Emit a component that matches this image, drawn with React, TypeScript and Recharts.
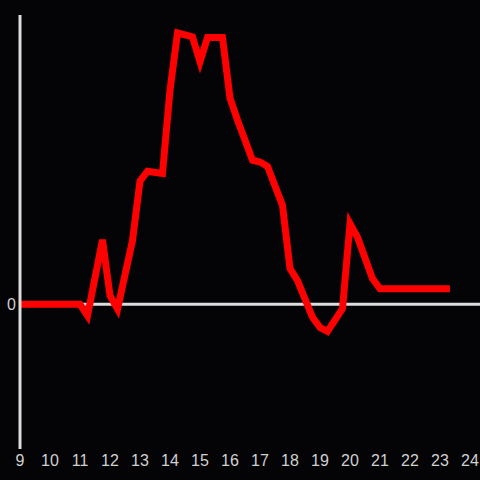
import React from 'react';
import { LineChart, Line, XAxis, YAxis, ReferenceLine } from 'recharts';

const hours = [9, 11, 11.25, 11.75, 12, 12.25, 12.75, 13, 13.25, 13.75, 14, 14.25, 14.75, 15, 15.25, 15.75, 16, 16.25, 16.75, 17, 17.25, 17.75, 18, 18.25, 18.75, 19, 19.25, 19.75, 20, 20.25, 20.75, 21, 23.33];
const values = [0, 0, -7.8, 44.6, 6.0, -3.2, 44.1, 85.2, 92.0, 90.4, 148.1, 187.6, 184.8, 167.7, 184.5, 184.5, 142.5, 127.3, 99.6, 98.4, 95.4, 68.4, 24.7, 16.4, -9.0, -16.1, -18.7, -3.0, 55.9, 46.4, 17.8, 10.7, 10.7];
const xTicks = [9, 10, 11, 12, 13, 14, 15, 16, 17, 18, 19, 20, 21, 22, 23, 24];
const yTicks = [0];

const data = hours.map((h, i) => ({ h, v: values[i] }));

export default function App() {
  return (
    <div style={{ position: 'fixed', left: 0, top: 0, width: 480, height: 480, background: '#040306' }}>
      <LineChart width={480} height={480} data={data} margin={{ top: 15, right: 0, left: 0, bottom: 0 }}>
        <XAxis
          dataKey="h"
          type="number"
          domain={[9, 24.333]}
          ticks={xTicks}
          axisLine={false}
          tickLine={false}
          tickSize={4}
          tickMargin={2}
          height={31}
          tick={{ fill: '#d0d0d0', fontSize: 16, fontFamily: 'Liberation Sans' }}
          interval={0}
          allowDataOverflow
        />
        <YAxis
          type="number"
          domain={[-100, 200]}
          ticks={yTicks}
          width={20}
          axisLine={{ stroke: '#dddddd', strokeWidth: 3 }}
          tickLine={false}
          tickSize={4}
          tickMargin={0}
          tick={{ fill: '#d0d0d0', fontSize: 16, fontFamily: 'Liberation Sans' }}
          allowDataOverflow
        />
        <ReferenceLine y={0} stroke="#dddddd" strokeWidth={3} />
        <Line dataKey="v" stroke="#ff0000" strokeWidth={7} dot={false} isAnimationActive={false} type="linear" />
      </LineChart>
    </div>
  );
}
